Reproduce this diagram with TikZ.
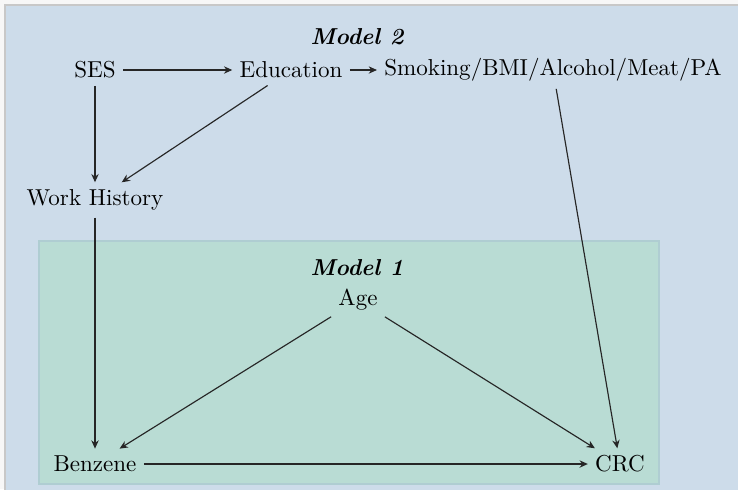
\documentclass[tikz,border=0pt]{standalone}
\usetikzlibrary{arrows.meta}
\definecolor{pagebg}{RGB}{247,247,247}
\definecolor{outerfill}{RGB}{205,220,234}
\definecolor{outerdraw}{RGB}{200,200,200}
\definecolor{innerfill}{RGB}{185,220,212}
\definecolor{innerdraw}{RGB}{175,205,210}
\tikzset{
  var/.style={inner sep=3pt},
  arr/.style={-{Stealth[length=3.6pt,width=3.2pt]}, line width=0.5pt, draw=black!85},
  title/.style={font=\bfseries\itshape}
}
\begin{document}
\begin{tikzpicture}[x=0.434pt,y=-0.434pt]
\useasboundingbox (0,0) rectangle (738,489);
\clip (0,0) rectangle (738,489);
\fill[pagebg] (0,0) rectangle (738,489);
\draw[outerdraw, fill=outerfill, line width=1pt] (5,5) rectangle (760,510);
\draw[innerdraw, fill=innerfill, line width=0.6pt] (39,241) rectangle (659,484);

\node[title] (m2) at (357,37) {Model 2};
\node[title] (m1) at (357,268) {Model 1};

\node[var] (ses) at (95,70) {SES};
\node[var] (edu) at (291,70) {Education};
\node[var] (life) at (553,70) {Smoking/BMI/Alcohol/Meat/PA};
\node[var] (wh) at (95,200) {Work History};
\node[var] (age) at (358,300) {Age};
\node[var] (benz) at (95,464) {Benzene};
\node[var] (crc) at (620,464) {CRC};

\draw[arr] (ses) -- (edu);
\draw[arr] (edu) -- (life);
\draw[arr] (ses) -- (wh);
\draw[arr] (edu) -- (wh);
\draw[arr] (wh) -- (benz);
\draw[arr] (age) -- (benz);
\draw[arr] (age) -- (crc);
\draw[arr] (life) -- (crc);
\draw[arr] (benz) -- (crc);
\end{tikzpicture}
\end{document}
